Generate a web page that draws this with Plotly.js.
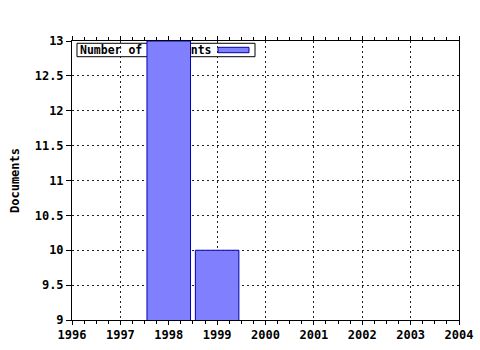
<!DOCTYPE html>
<html><head><meta charset="utf-8">
<script src="https://cdn.plot.ly/plotly-3.0.1.min.js"></script>
<style>body{margin:0;background:#fff}</style>
</head><body><div id="chart" style="width:480px;height:350px"></div>
<script>
const years = [1998, 1999];
const documents = [13, 10];
const seriesName = "Number of documents";
const yTitle = "Documents";

const fam = "DejaVu Sans Mono, monospace";
const fnt = {family: fam, size: 12, color: "#000", weight: "bold"};
const legFnt = {family: fam, size: 11.5, color: "#000", weight: "bold"};
const barFill = "#8080ff", barLine = "#0000aa";
Plotly.newPlot("chart", [{
  type: "bar", x: years, y: documents, name: seriesName, width: 0.9,
  marker: {color: barFill, line: {color: barLine, width: 1}},
  showlegend: false
}], {
  width: 480, height: 350,
  margin: {l: 72, r: 21, t: 41, b: 30},
  paper_bgcolor: "#fff", plot_bgcolor: "#fff",
  font: fnt,
  showlegend: false,
  shapes: [
    {type: "rect", xref: "paper", yref: "paper", layer: "between",
     x0: 0.0129, x1: 0.4729, y0: 0.9437, y1: 0.9918,
     fillcolor: "#fff", line: {color: "#000", width: 1},
     label: {text: seriesName, textposition: "middle left", padding: 0, font: legFnt}},
    {type: "rect", xref: "paper", yref: "paper", layer: "between",
     x0: 0.3773, x1: 0.4574, y0: 0.958, y1: 0.9774,
     fillcolor: barFill, line: {color: barLine, width: 1}}
  ],
  xaxis: {range: [1996, 2004], dtick: 1, tick0: 1996, showgrid: true, gridcolor: "#222", griddash: "2px,3px", gridwidth: 1,
    showline: true, linecolor: "#000", linewidth: 1, mirror: "ticks", ticks: "outside", ticklen: 4, tickcolor: "#000",
    minor: {dtick: 0.25, ticks: "outside", ticklen: 3, tickcolor: "#000", showgrid: false},
    zeroline: false, tickfont: fnt},
  yaxis: {range: [9, 13], dtick: 0.5, showgrid: true, gridcolor: "#222", griddash: "2px,3px", gridwidth: 1,
    showline: true, linecolor: "#000", linewidth: 1, mirror: true, ticks: "outside", ticklen: 5, tickcolor: "#000",
    zeroline: false, tickfont: fnt,
    title: {text: yTitle, font: fnt, standoff: 12}}
}, {displayModeBar: false, staticPlot: true});
</script></body></html>
